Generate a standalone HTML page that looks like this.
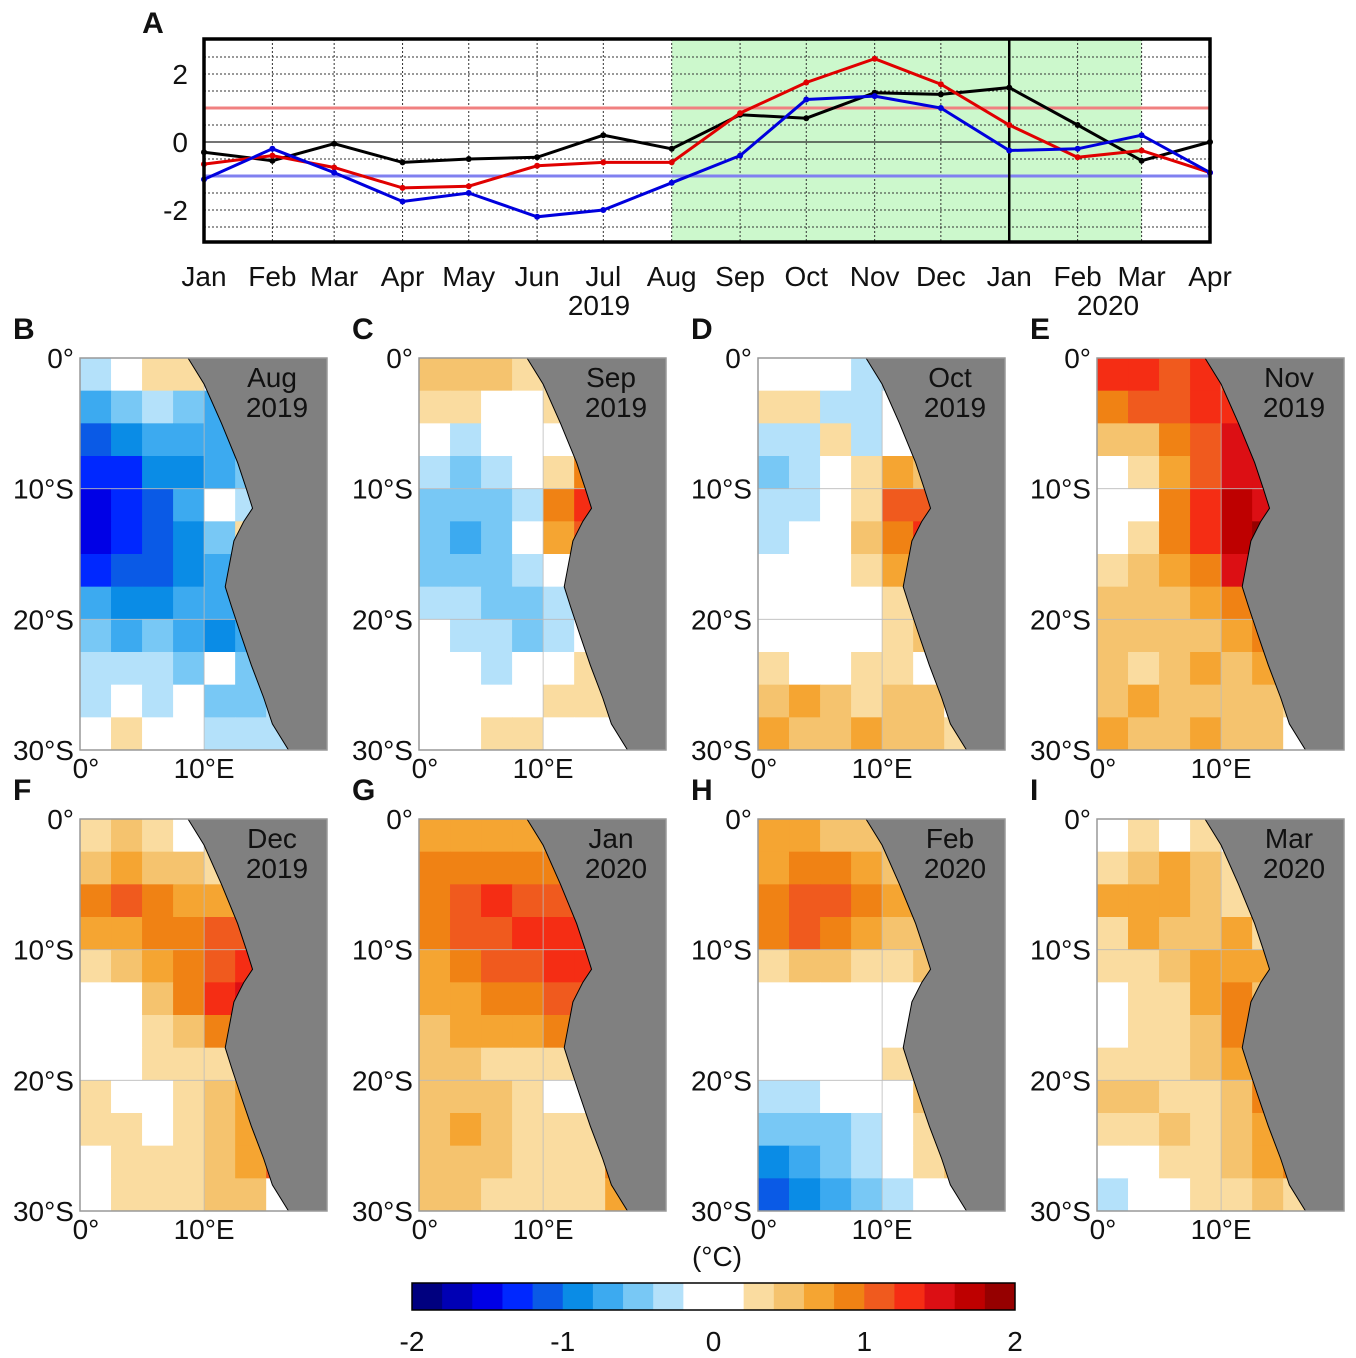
<!DOCTYPE html>
<html><head><meta charset="utf-8">
<style>
html,body{margin:0;padding:0;background:#fff;}
svg{display:block;font-family:"Liberation Sans",Arial,sans-serif;}
</style></head>
<body>
<svg id="fig" width="1356" height="1358" viewBox="0 0 1356 1358" xmlns="http://www.w3.org/2000/svg"></svg>
<script>
// ---- Panel A data ----
const months = ['Jan','Feb','Mar','Apr','May','Jun','Jul','Aug','Sep','Oct','Nov','Dec','Jan','Feb','Mar','Apr'];
const monthDays = [0,31,59,90,120,151,181,212,243,273,304,334,365,396,425,456];
const blackSeries = [-0.3,-0.55,-0.05,-0.6,-0.5,-0.45,0.2,-0.2,0.8,0.7,1.45,1.4,1.6,0.5,-0.55,0];
const redSeries = [-0.65,-0.4,-0.75,-1.35,-1.3,-0.7,-0.6,-0.6,0.85,1.75,2.45,1.7,0.5,-0.45,-0.25,-0.9];
const blueSeries = [-1.1,-0.2,-0.9,-1.75,-1.5,-2.2,-2.0,-1.2,-0.4,1.25,1.35,1.0,-0.25,-0.2,0.2,-0.9];
const yTicks = [2,0,-2];
const thresholds = [1,-1];
// ---- Map data (8 cols x 12 rows, 2.5° cells, 0-20E, 0-30S) ----
const panelLetters = ['B','C','D','E','F','G','H','I'];
const panelMonths = ['Aug','Sep','Oct','Nov','Dec','Jan','Feb','Mar'];
const panelYears = ['2019','2019','2019','2019','2019','2020','2020','2020'];
const mapB = [[-0.3,-0.2,0.3,0.2,-0.2,-0.3,0,0],[-0.7,-0.6,-0.4,-0.6,-0.7,-0.6,-0.3,0],[-1.1,-0.9,-0.7,-0.8,-0.8,-0.6,-0.3,0],[-1.4,-1.3,-1.0,-0.9,-0.7,-0.5,-0.3,0],[-1.6,-1.4,-1.1,-0.8,-0.2,-0.3,0,0],[-1.6,-1.4,-1.2,-0.9,-0.6,0.2,0,0],[-1.3,-1.2,-1.1,-0.9,-0.7,-0.5,0,0],[-0.8,-0.9,-1.0,-0.8,-0.7,-0.6,0,0],[-0.6,-0.7,-0.6,-0.7,-0.9,-0.8,-0.5,0],[-0.4,-0.3,-0.4,-0.5,0.1,-0.6,-0.6,0],[-0.3,-0.2,-0.3,-0.1,-0.5,-0.5,-0.4,0],[-0.1,0.2,0.1,-0.1,-0.3,-0.4,-0.3,0]];
const mapC = [[0.5,0.4,0.5,0.3,0.3,0.2,0,0],[0.3,0.2,0.1,0.0,0.2,0.3,0.2,0],[0,-0.3,-0.2,0,0.1,0.3,0.3,0],[-0.4,-0.5,-0.4,-0.2,0.3,0.8,0.6,0],[-0.6,-0.6,-0.5,-0.3,0.9,1.2,0.9,0],[-0.5,-0.7,-0.5,-0.2,0.6,1.1,0,0],[-0.5,-0.5,-0.6,-0.4,0.1,0.4,0,0],[-0.4,-0.4,-0.5,-0.5,-0.3,-0.1,0,0],[-0.1,-0.3,-0.4,-0.5,-0.3,-0.2,0,0],[0,-0.2,-0.3,-0.2,0,0.3,-0.2,0],[0,0.1,0,-0.2,0.3,0.3,0.2,0],[0.1,0.1,0.3,0.2,0.1,-0.1,0,0]];
const mapD = [[0,0,-0.2,-0.3,-0.3,0,0,0],[0.3,0.2,-0.3,-0.4,-0.2,0.1,0.2,0],[-0.4,-0.3,0.3,-0.3,0,0.2,0.3,0],[-0.5,-0.4,-0.1,0.2,0.6,0.5,0.3,0],[-0.4,-0.3,-0.1,0.3,1.0,1.1,0.5,0],[-0.3,-0.2,0,0.4,0.9,1.2,0.6,0],[-0.1,0,0.1,0.2,0.6,1.0,0,0],[0,0,0,0.1,0.3,0.5,0.4,0],[0,0.1,0,0.1,0.3,0.4,0.3,0],[0.2,0.1,0,0.3,0.2,-0.2,0.2,0],[0.5,0.6,0.4,0.3,0.5,0.4,-0.2,0],[0.6,0.5,0.5,0.6,0.5,0.4,0.3,0]];
const mapE = [[1.3,1.2,1.1,1.2,1.1,1.0,0,0],[0.9,1.0,1.1,1.2,1.3,1.2,1.1,0],[0.4,0.5,0.8,1.1,1.5,1.6,1.3,0],[0,0.2,0.7,1.1,1.4,1.5,1.4,0],[0,0.1,0.9,1.3,1.6,1.5,1.3,0],[0.1,0.3,0.8,1.2,1.6,1.8,0,0],[0.3,0.4,0.6,0.9,1.4,1.9,0,0],[0.5,0.5,0.5,0.7,0.9,1.2,0.9,0],[0.5,0.5,0.4,0.5,0.6,0.8,0.5,0],[0.4,0.3,0.5,0.6,0.5,0.7,0.4,0],[0.5,0.6,0.5,0.5,0.5,0.4,0.2,0],[0.6,0.5,0.5,0.6,0.5,0.4,0,0]];
const mapF = [[0.3,0.4,0.2,0.1,0.3,0,0,0],[0.5,0.6,0.5,0.4,0.3,0.5,0,0],[0.9,1.0,0.9,0.7,0.7,0.8,0.8,0],[0.6,0.7,0.8,0.9,1.0,1.1,1.2,0],[0.3,0.4,0.6,0.9,1.1,1.3,1.4,0],[0,0.1,0.4,0.8,1.2,1.5,1.6,0],[0,0,0.2,0.5,0.9,1.4,0,0],[0,0.1,0.2,0.3,0.2,0.4,0.6,0],[0.2,0.1,0.1,0.2,0.4,0.6,0.7,0],[0.3,0.2,0.1,0.3,0.4,0.7,0.8,0],[0.1,0.2,0.3,0.2,0.4,0.6,1.0,0],[0,0.2,0.3,0.3,0.5,0.5,0,0]];
const mapG = [[0.7,0.7,0.6,0.6,0.7,0.6,0,0],[0.8,0.8,0.8,0.9,0.9,0.9,0.7,0],[0.9,1.1,1.2,1.0,1.0,1.1,1.1,0],[0.8,1.0,1.1,1.2,1.2,1.3,1.3,0],[0.7,0.9,1.0,1.0,1.2,1.2,1.1,0],[0.6,0.7,0.8,0.9,1.0,1.1,0.8,0],[0.5,0.6,0.6,0.7,0.8,0.7,0,0],[0.4,0.4,0.3,0.3,0.2,0.1,0,0],[0.5,0.5,0.4,0.3,0.1,0,-0.2,0],[0.5,0.6,0.4,0.3,0.2,0.3,0.2,0],[0.4,0.5,0.4,0.3,0.2,0.2,0.9,0],[0.5,0.4,0.3,0.2,0.3,0.3,0.6,0]];
const mapH = [[0.6,0.6,0.5,0.4,0.4,0.3,0,0],[0.7,0.8,0.8,0.6,0.5,0.5,0.4,0],[0.9,1.1,1.0,0.8,0.6,0.6,0.5,0],[0.8,1.0,0.9,0.7,0.5,0.5,0.4,0],[0.3,0.4,0.4,0.3,0.3,0.4,0.3,0],[0,0.1,0.1,0.1,0,0,-0.2,0],[0,0,0,0.1,-0.2,-0.6,0,0],[0,-0.1,0,0.1,0.2,0.3,-0.3,0],[-0.4,-0.3,-0.2,0,0.1,0.5,0.3,0],[-0.6,-0.5,-0.5,-0.3,0.1,0.3,0.7,0],[-1.0,-0.8,-0.6,-0.4,-0.2,0.2,0.4,0],[-1.2,-0.9,-0.7,-0.5,-0.3,-0.1,0,0]];
const mapI = [[0.1,0.2,0.1,0.2,0.1,0,0,0],[0.3,0.5,0.6,0.5,0.2,0.1,0,0],[0.6,0.7,0.6,0.4,0.3,0.1,0,0],[0.3,0.6,0.5,0.5,0.6,0.2,-0.4,0],[0.2,0.3,0.4,0.6,0.7,0.6,-0.8,0],[0.1,0.2,0.3,0.6,0.8,0.5,-1.2,0],[0.1,0.2,0.3,0.5,0.8,0.9,0,0],[0.3,0.3,0.3,0.4,0.6,1.0,0.5,0],[0.4,0.5,0.3,0.2,0.5,0.8,0.9,0],[0.2,0.3,0.4,0.3,0.4,0.6,1.0,0],[-0.2,0.1,0.2,0.3,0.4,0.6,0.8,0],[-0.3,-0.1,0.1,0.3,0.3,0.4,0.2,0]];
const maps = [mapB,mapC,mapD,mapE,mapF,mapG,mapH,mapI];
const coastLon = [8.7,10,11.4,12.7,13.4,13.9,13.2,12.4,12.0,11.7,12.2,12.9,13.8,14.8,15.5,16.8];
const coastLat = [0,2,5,8,10,11.5,12.5,14,16,17.5,19,21,23.5,26,28,30];
const cbTicks = [-2,-1,0,1,2];
const palette = ['#00007f','#0000b4','#0000e6','#0028ff','#0a5ae6','#0a8ce6','#3caaf0','#78c8f5','#b4e1fa','#ffffff','#ffffff','#fadca0','#f5c36e','#f5a532','#f08214','#f05a1e','#f52d14','#dc0f14','#be0000','#960000'];

const NS='http://www.w3.org/2000/svg';
const svg=document.getElementById('fig');
function mk(tag,attrs,parent){const e=document.createElementNS(NS,tag);for(const k in attrs)e.setAttribute(k,attrs[k]);(parent||svg).appendChild(e);return e;}
function txt(x,y,s,size,anchor,parent,weight){const t=mk('text',{x:x,y:y,'font-size':size,'text-anchor':anchor||'middle',fill:'#111'},parent);if(weight)t.setAttribute('font-weight',weight);t.textContent=s;return t;}

// ---- Panel A ----
const ax={x0:204,x1:1210,y0:39,y1:242};
const xA=d=>ax.x0+(d/456)*(ax.x1-ax.x0);
const yA=v=>142-v*34;
const gA=mk('g',{});


const shade=mk('rect',{x:xA(monthDays[7]),y:ax.y0,width:xA(monthDays[14])-xA(monthDays[7]),height:ax.y1-ax.y0,fill:'#ccf8cc'},gA);


for(let v=-2.5;v<=2.5;v+=0.5){if(v===0)continue;mk('line',{x1:ax.x0,x2:ax.x1,y1:yA(v),y2:yA(v),stroke:'#333','stroke-width':1,'stroke-dasharray':'2,2'},gA);}
for(let i=1;i<monthDays.length-1;i++){mk('line',{x1:xA(monthDays[i]),x2:xA(monthDays[i]),y1:ax.y0,y2:ax.y1,stroke:'#333','stroke-width':1,'stroke-dasharray':'2,2'},gA);}
mk('line',{x1:ax.x0,x2:ax.x1,y1:yA(0),y2:yA(0),stroke:'#222','stroke-width':1.2},gA);
const thrColors=['#f08080','#8080f0'];
thresholds.forEach((t,i)=>{const l=mk('line',{x1:ax.x0,x2:ax.x1,y1:yA(t),y2:yA(t),stroke:thrColors[i],'stroke-width':3},gA);});
const vl=mk('line',{x1:xA(monthDays[12]),x2:xA(monthDays[12]),y1:ax.y0,y2:ax.y1,stroke:'#000','stroke-width':2.5},gA);


[[blackSeries,'#000','black-series'],[redSeries,'#e00000','red-series'],[blueSeries,'#0000dd','blue-series']].forEach(([s,c,n])=>{
  const p=mk('polyline',{points:s.map((v,i)=>xA(monthDays[i])+','+yA(v)).join(' '),fill:'none',stroke:c,'stroke-width':3},gA);
  
  
  s.forEach((v,i)=>{const d=mk('circle',{cx:xA(monthDays[i]),cy:yA(v),r:3,fill:c},gA);});
});
mk('rect',{x:ax.x0,y:ax.y0,width:ax.x1-ax.x0,height:ax.y1-ax.y0,fill:'none',stroke:'#000','stroke-width':3.5},gA);
yTicks.forEach(v=>{const t=txt(188,yA(v)+10,String(v),28,'end',gA);});
months.forEach((m,i)=>{const t=txt(xA(monthDays[i]),286,m,28,'middle',gA);});
const y19=txt(599,315,'2019',28,'middle',gA);
const y20=txt(1108,315,'2020',28,'middle',gA);
const la=txt(153,33,'A',30,'middle',gA,'bold');

// ---- Maps ----
function color(v){let k=Math.floor((v+2)/0.2+1e-9);if(k<0)k=0;if(k>19)k=19;return palette[k];}
const mapWpx=247,mapHpx=392,lonMax=19.9;
const colsX=[80,419,758,1097];
const rowsY=[358,819];
maps.forEach((grid,pi)=>{
  const ox=colsX[pi%4],oy=rowsY[Math.floor(pi/4)];
  const lx=lon=>ox+lon/lonMax*mapWpx;
  const ly=lat=>oy+lat/30*mapHpx;
  const g=mk('g',{});
  
  
  grid.forEach((row,r)=>row.forEach((v,c)=>{
    const x0=lx(c*2.5),x1=Math.min(lx((c+1)*2.5),ox+mapWpx);
    const cell=mk('rect',{x:x0,y:ly(r*2.5),width:x1-x0+0.5,height:ly((r+1)*2.5)-ly(r*2.5)+0.5,fill:color(v)},g);
    
    
  }));
  [10,20].forEach(lat=>mk('line',{x1:ox,x2:ox+mapWpx,y1:ly(lat),y2:ly(lat),stroke:'#bbb','stroke-width':0.8},g));
  mk('line',{x1:lx(10),x2:lx(10),y1:oy,y2:oy+mapHpx,stroke:'#bbb','stroke-width':0.8},g);
  let pts=coastLon.map((lo,i)=>lx(lo)+','+ly(coastLat[i])).join(' ');
  pts+=' '+(ox+mapWpx)+','+(oy+mapHpx)+' '+(ox+mapWpx)+','+oy;
  const land=mk('polygon',{points:pts,fill:'#808080',stroke:'#000','stroke-width':1},g);
  
  
  mk('rect',{x:ox,y:oy,width:mapWpx,height:mapHpx,fill:'none',stroke:'#999','stroke-width':1.5},g);
  const m1=txt(ox+192,oy+29,panelMonths[pi],28,'middle',g);
  const m2=txt(ox+197,oy+59,panelYears[pi],28,'middle',g);
  [['0°',0],['10°S',10],['20°S',20],['30°S',30]].forEach(([s,lat])=>{const t=txt(ox-6,ly(lat)+10,s,28,'end',g);});
  [['0°',0],['10°E',10]].forEach(([s,lon])=>{const t=txt(lx(lon)+(lon===0?6:0),oy+mapHpx+28,s,28,'middle',g);});
  const pl=txt(ox-67,oy-19,panelLetters[pi],30,'start',g,'bold');
});

// ---- Colorbar ----
const cb={x0:412,x1:1015,y0:1283,y1:1310};
const cbX=v=>cb.x0+(v+2)/4*(cb.x1-cb.x0);
const gc=mk('g',{});


palette.forEach((c,i)=>{const v=-2+i*0.2;const r=mk('rect',{x:cbX(v),y:cb.y0,width:cbX(v+0.2)-cbX(v)+0.5,height:cb.y1-cb.y0,fill:c},gc);});
mk('rect',{x:cb.x0,y:cb.y0,width:cb.x1-cb.x0,height:cb.y1-cb.y0,fill:'none',stroke:'#000','stroke-width':1.5},gc);
cbTicks.forEach(v=>{const t=txt(cbX(v),1351,String(v),28,'middle',gc);});
const unit=txt(717,1266,'(°C)',28,'middle',gc);
</script>
</body></html>
